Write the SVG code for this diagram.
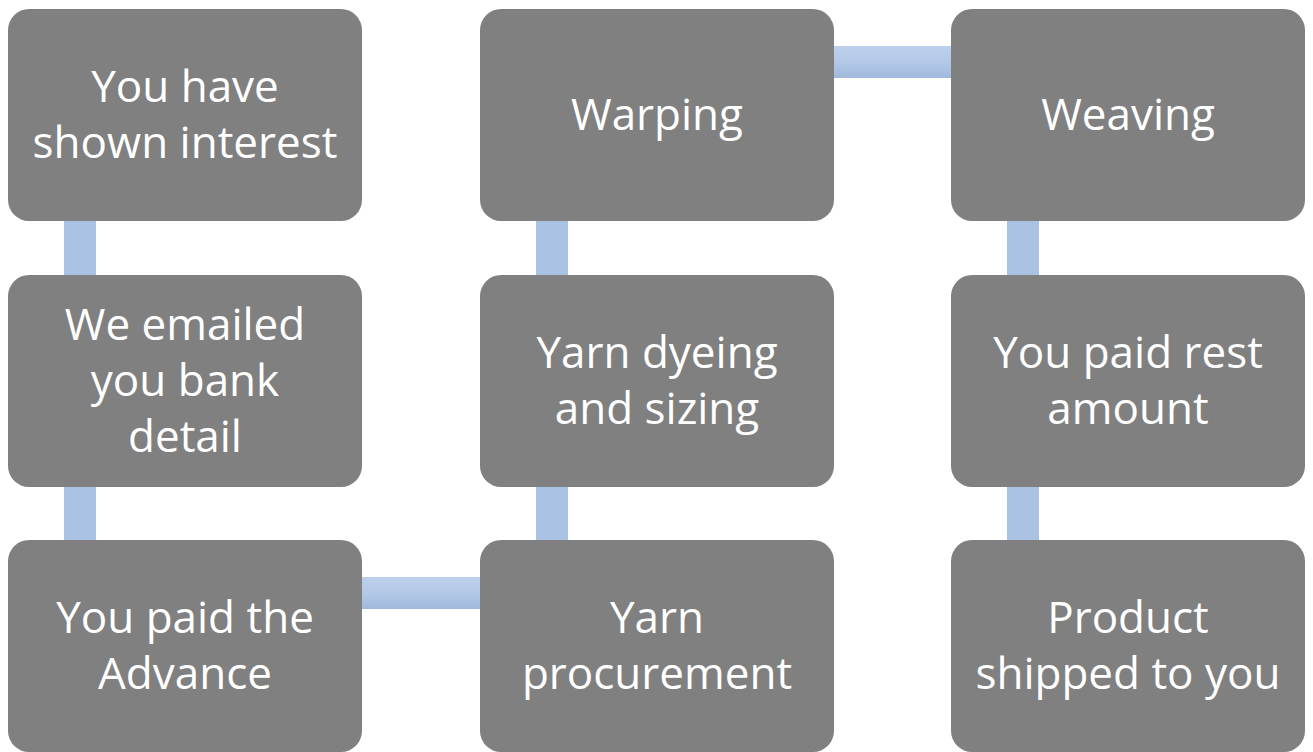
<svg xmlns="http://www.w3.org/2000/svg" width="1313" height="752" viewBox="0 0 1313 752">
<defs>
<linearGradient id="gh" x1="0" y1="0" x2="0" y2="1">
<stop offset="0" stop-color="#bcd0ec"/>
<stop offset="0.5" stop-color="#b4c9e7"/>
<stop offset="1" stop-color="#9fb8dc"/>
</linearGradient>
<style>
.box{fill:#808080;}
.t{fill:#ffffff;font-family:"Open Sans","Noto Sans",sans-serif;font-size:44px;text-anchor:middle;dominant-baseline:central;}
.cv{fill:#aac3e4;}
.ch{fill:url(#gh);}
</style>
</defs>
<rect width="1313" height="752" fill="#ffffff"/>
<g id="connectors">
<rect class="cv" x="64" y="221" width="32" height="54"/>
<rect class="cv" x="64" y="487" width="32" height="53"/>
<rect class="ch" x="362" y="577" width="118" height="32"/>
<rect class="cv" x="536" y="487" width="32" height="53"/>
<rect class="cv" x="536" y="221" width="32" height="54"/>
<rect class="ch" x="834" y="46" width="117" height="32"/>
<rect class="cv" x="1007" y="221" width="32" height="54"/>
<rect class="cv" x="1007" y="487" width="32" height="53"/>
</g>
<g id="n1"><rect class="box" x="8" y="9" width="354" height="212" rx="21"/><text class="t" x="185" y="85">You have</text><text class="t" x="185" y="141">shown interest</text></g>
<g id="n2"><rect class="box" x="8" y="275" width="354" height="212" rx="21"/><text class="t" x="185" y="323">We emailed</text><text class="t" x="185" y="379">you bank</text><text class="t" x="185" y="435">detail</text></g>
<g id="n3"><rect class="box" x="8" y="540" width="354" height="212" rx="21"/><text class="t" x="185" y="616">You paid the</text><text class="t" x="185" y="672">Advance</text></g>
<g id="n4"><rect class="box" x="480" y="540" width="354" height="212" rx="21"/><text class="t" x="657" y="616">Yarn</text><text class="t" x="657" y="672">procurement</text></g>
<g id="n5"><rect class="box" x="480" y="275" width="354" height="212" rx="21"/><text class="t" x="657" y="351">Yarn dyeing</text><text class="t" x="657" y="407">and sizing</text></g>
<g id="n6"><rect class="box" x="480" y="9" width="354" height="212" rx="21"/><text class="t" x="657" y="113">Warping</text></g>
<g id="n7"><rect class="box" x="951" y="9" width="354" height="212" rx="21"/><text class="t" x="1128" y="113">Weaving</text></g>
<g id="n8"><rect class="box" x="951" y="275" width="354" height="212" rx="21"/><text class="t" x="1128" y="351">You paid rest</text><text class="t" x="1128" y="407">amount</text></g>
<g id="n9"><rect class="box" x="951" y="540" width="354" height="212" rx="21"/><text class="t" x="1128" y="616">Product</text><text class="t" x="1128" y="672">shipped to you</text></g>
</svg>
